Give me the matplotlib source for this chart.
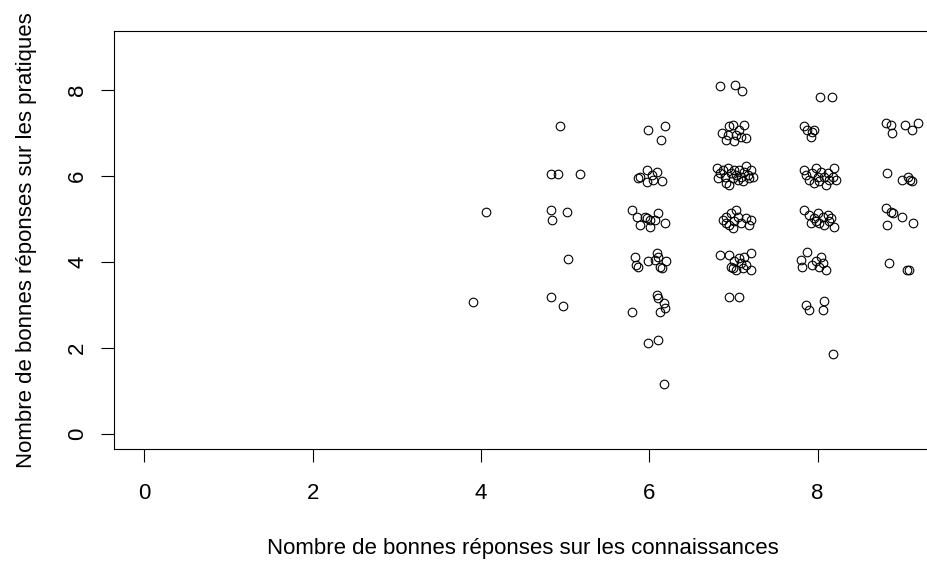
import matplotlib
matplotlib.use("Agg")
import matplotlib.pyplot as plt
import numpy as np

# jittered scores (connaissances, pratiques), grouped by knowledge score
conn_4 = [4.06, 3.91]
prat_4 = [5.16, 3.07]

conn_5 = [4.83, 4.91, 5.18, 4.94, 4.83, 4.85, 5.02, 5.03, 4.83, 4.97]
prat_5 = [6.05, 6.05, 6.05, 7.16, 5.20, 4.98, 5.16, 4.06, 3.18, 2.98]

conn_6 = [5.99, 6.19, 6.14,
          5.89, 5.97, 6.03, 6.09, 6.15, 5.97, 5.87, 6.05,
          5.80, 5.85, 5.89, 5.95, 6.01, 6.01, 6.07, 6.11, 6.19, 5.97,
          5.83, 5.87, 5.84, 5.99, 6.09, 6.11, 6.07, 6.13, 6.20, 6.15,
          6.09, 6.11, 6.17, 6.19, 6.13, 5.80,
          5.99, 6.11, 6.17]
prat_6 = [7.07, 7.15, 6.84,
          5.98, 6.14, 6.02, 6.10, 5.87, 5.85, 5.94, 5.91,
          5.21, 5.05, 4.86, 5.05, 4.82, 4.98, 4.98, 5.13, 4.90, 5.02,
          4.12, 3.89, 3.93, 4.01, 4.20, 4.12, 4.05, 3.89, 4.01, 3.85,
          3.23, 3.16, 3.04, 2.92, 2.84, 2.84,
          2.12, 2.19, 1.16]

conn_7 = [6.84, 7.02, 7.10,
          6.86, 6.91, 6.95, 6.99, 7.03, 7.07, 7.09, 7.13, 7.15, 6.93, 7.01,
          6.80, 6.84, 6.82, 6.88, 6.90, 6.91, 6.93, 6.97, 6.99, 7.01, 7.03,
          7.05, 7.07, 7.09, 7.11, 7.13, 7.15, 7.17, 7.19, 7.21, 7.23, 6.95,
          6.88, 6.91, 6.95, 6.97, 7.01, 7.03, 7.05, 6.99, 7.09, 7.15, 7.19, 7.21, 6.91,
          6.84, 6.95, 6.97, 7.03, 7.01, 7.07, 7.09, 7.13, 7.15, 7.21, 7.21, 7.11, 6.99,
          6.95, 7.07]
prat_7 = [8.09, 8.12, 7.98,
          6.99, 6.84, 7.15, 7.19, 6.95, 7.07, 6.91, 7.19, 6.88, 6.95, 6.80,
          6.18, 6.06, 5.95, 6.14, 5.98, 5.83, 6.18, 6.06, 5.95, 6.14, 6.02,
          5.91, 6.14, 5.98, 5.87, 6.10, 6.22, 6.02, 5.95, 6.14, 5.98, 5.79,
          4.98, 5.05, 4.86, 5.13, 4.94, 5.21, 5.05, 4.78, 4.90, 5.02, 4.86, 4.98, 4.90,
          4.16, 4.16, 3.89, 3.81, 4.01, 4.09, 3.97, 4.12, 3.93, 3.81, 4.20, 3.85, 3.85,
          3.19, 3.19]

conn_8 = [8.03, 8.17,
          7.84, 7.88, 7.94, 7.92, 7.96,
          7.84, 7.86, 7.90, 7.94, 7.98, 8.00, 8.02, 8.04, 8.08, 8.10, 8.12, 8.14,
          8.18, 8.20, 8.22, 7.96,
          7.84, 7.90, 7.92, 7.96, 8.00, 8.02, 8.06, 8.08, 8.12, 8.14, 8.16, 8.20, 7.98,
          7.88, 7.80, 7.82, 7.94, 7.98, 8.04, 8.06, 8.10, 8.02,
          7.86, 7.90, 8.08, 8.06,
          8.18]
prat_8 = [7.83, 7.83,
          7.15, 7.07, 7.03, 6.91, 7.07,
          6.14, 6.02, 5.91, 6.06, 6.18, 5.98, 5.87, 6.10, 5.98, 5.79, 6.06, 5.91,
          5.98, 6.18, 5.91, 5.83,
          5.21, 5.09, 4.90, 5.02, 5.13, 4.90, 5.05, 4.86, 5.09, 4.94, 5.02, 4.82, 4.94,
          4.24, 4.05, 3.89, 3.93, 4.01, 4.12, 3.97, 3.81, 3.89,
          3.00, 2.88, 3.08, 2.88,
          1.86]

conn_9 = [8.81, 8.87, 8.89, 9.04, 9.12, 9.19,
          8.83, 9.00, 9.08, 9.10, 9.12,
          8.81, 8.87, 8.90, 9.00, 8.83, 9.14,
          8.85, 9.06, 9.09]
prat_9 = [7.22, 7.19, 6.99, 7.19, 7.07, 7.22,
          6.06, 5.91, 5.98, 5.91, 5.87,
          5.25, 5.17, 5.13, 5.05, 4.86, 4.90,
          3.98, 3.81, 3.81]

connaissances = np.concatenate([conn_4, conn_5, conn_6, conn_7, conn_8, conn_9])
pratiques = np.concatenate([prat_4, prat_5, prat_6, prat_7, prat_8, prat_9])

ticks = [0, 2, 4, 6, 8]

plt.rcParams['font.family'] = ['Liberation Sans', 'DejaVu Sans']

fig = plt.figure(figsize=(9.28, 5.61), dpi=100)
# plot region runs a little past the right edge of the picture, as in the original
ax = fig.add_axes([114/928, 0.1991, 818/928, 0.745])

ax.plot(connaissances, pratiques, 'o', mfc='none', mec='black', ms=6.2, mew=0.8)

ax.set_xlim(-0.36, 9.36)
ax.set_ylim(-0.36, 9.36)
ax.set_xticks(ticks)
ax.set_yticks(ticks)
ax.tick_params(direction='out', length=9.5, width=0.8, labelsize=16)
ax.tick_params(axis='x', pad=15)
ax.tick_params(axis='y', pad=9)
plt.setp(ax.get_yticklabels(), rotation=90, va='center')
for s in ax.spines.values():
    s.set_linewidth(0.8)

ax.set_xlabel("Nombre de bonnes réponses sur les connaissances", fontsize=16, labelpad=24)
ax.set_ylabel("Nombre de bonnes réponses sur les pratiques", fontsize=16, labelpad=22)

fig.savefig('out.png', dpi=100)
